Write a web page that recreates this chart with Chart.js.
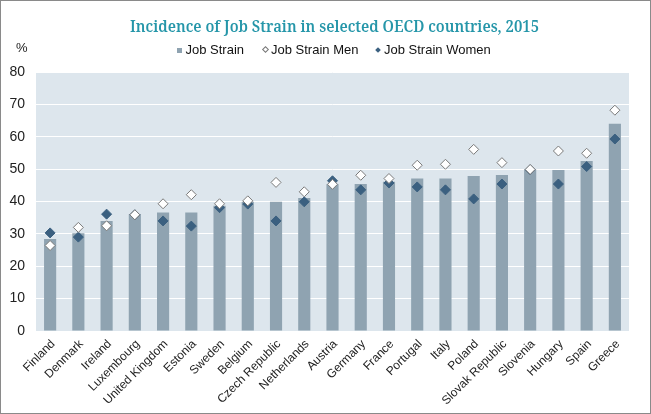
<!DOCTYPE html>
<html><head><meta charset="utf-8">
<script src="https://cdn.jsdelivr.net/npm/chart.js@4/dist/chart.umd.min.js"></script>
<style>
html,body{margin:0;padding:0;background:#fff;}
#wrap{position:relative;width:649px;height:412px;border:1px solid #8a8a8a;overflow:hidden;}
#c{position:absolute;left:0;top:0;}
#title{position:absolute;left:129px;top:16px;line-height:17px;white-space:nowrap;font-family:"Noto Serif","DejaVu Serif",serif;font-weight:600;font-size:17px;color:#2596a9;transform-origin:0 0;}
.txt{position:absolute;line-height:13px;white-space:nowrap;font-family:"Liberation Sans",Arial,sans-serif;font-size:13px;color:#111;top:41.5px;}
#pct{position:absolute;left:15px;top:40px;line-height:14px;font-family:"Liberation Sans",Arial,sans-serif;font-size:13px;color:#222;}
.sq{position:absolute;left:176px;top:46.5px;width:5px;height:5px;background:#8fa3b1;}
.dm{position:absolute;transform:rotate(45deg);box-sizing:border-box;}
</style></head>
<body>
<div id="wrap">
<canvas id="c" width="649" height="412"></canvas>
<div id="title">Incidence of Job Strain in selected OECD countries, 2015</div>
<div id="pct">%</div>
<span class="sq"></span><span class="txt" style="left:184.5px">Job Strain</span>
<span class="dm" style="left:261.5px;top:46px;width:5px;height:5px;background:#fff;border:1px solid #777;"></span><span class="txt" style="left:270px">Job Strain Men</span>
<span class="dm" style="left:375px;top:46.7px;width:4px;height:4px;background:#3b6080;"></span><span class="txt" style="left:383px">Job Strain Women</span>
</div>
<script>
const countries = ["Finland","Denmark","Ireland","Luxembourg","United Kingdom","Estonia","Sweden","Belgium","Czech Republic","Netherlands","Austria","Germany","France","Portugal","Italy","Poland","Slovak Republic","Slovenia","Hungary","Spain","Greece"];
const jobStrain      = [28.4,30.2,34.0,36.1,36.6,36.6,38.7,39.9,39.9,41.1,45.3,45.4,46.1,47.1,47.1,47.9,48.2,49.9,49.7,52.5,64.0];
const jobStrainMen   = [26.4,32.0,32.5,35.9,39.3,42.1,39.3,40.2,45.9,43.0,45.3,48.1,47.1,51.2,51.5,56.1,52.0,49.9,55.6,54.9,68.2];
const jobStrainWomen = [30.3,29.0,36.1,35.9,34.0,32.4,38.1,39.2,34.0,39.9,46.4,43.6,45.7,44.5,43.6,40.8,45.4,49.8,45.4,50.8,59.3];
const yTicks = [0,10,20,30,40,50,60,70,80];

// fit title to reference width
const t = document.getElementById('title');
const tw = t.getBoundingClientRect().width;
t.style.transform = 'scaleX(' + (409 / tw) + ')';

const sans = '"Liberation Sans", Arial, sans-serif';

const bgPlugin = {
  id:'bg',
  beforeDraw(chart){
    const {ctx, chartArea:a} = chart;
    ctx.save(); ctx.fillStyle='#dde6ed';
    ctx.fillRect(a.left,a.top,a.right-a.left,a.bottom-a.top);
    ctx.restore();
  }
};

new Chart(document.getElementById('c'), {
  data:{
    labels: countries,
    datasets:[
      {type:'scatter', label:'Job Strain Women', data: jobStrainWomen, pointStyle:'rectRot', pointRadius:5, backgroundColor:'#3b6080', borderColor:'#3b6080', borderWidth:1, order:1},
      {type:'scatter', label:'Job Strain Men', data: jobStrainMen, pointStyle:'rectRot', pointRadius:5, backgroundColor:'#ffffff', borderColor:'#7a7a7a', borderWidth:1, order:0},
      {type:'bar', label:'Job Strain', data: jobStrain, backgroundColor:'#8fa3b1', barPercentage:0.43, categoryPercentage:1, order:2}
    ]
  },
  options:{
    responsive:false, animation:false,
    layout:{padding:{left:4,right:21,top:71,bottom:0}},
    plugins:{legend:{display:false}, title:{display:false}, tooltip:{enabled:false}},
    scales:{
      x:{type:'category', offset:true,
        afterFit(s){ s.height = 82; },
        grid:{display:false, drawTicks:false},
        border:{display:false},
        ticks:{autoSkip:false, maxRotation:45, minRotation:45, padding:6, labelOffset:3, color:'#222', font:{family:sans, size:12}}
      },
      y:{min:0,max:80,
        afterFit(s){ s.width = 31; },
        afterBuildTicks(axis){ axis.ticks = yTicks.map(v=>({value:v})); },
        grid:{color:'#ffffff', lineWidth:1, drawTicks:false},
        border:{display:false},
        ticks:{padding:11, color:'#222', font:{family:sans, size:14}}
      }
    }
  },
  plugins:[bgPlugin]
});
</script>
</body></html>
